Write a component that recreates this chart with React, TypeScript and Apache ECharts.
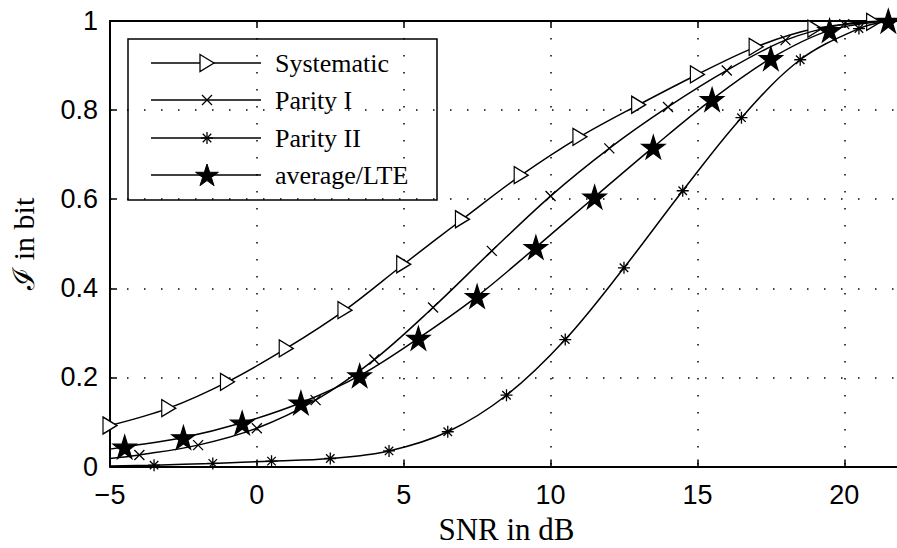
import React, { useEffect, useRef } from "react";
import * as echarts from "echarts";

// ---- data ----
const systematicSnr = [-5, -3, -1, 1, 3, 5, 7, 9, 11, 13, 15, 17, 19, 21, 21.5];
const systematicInfo = [0.092, 0.131, 0.19, 0.265, 0.351, 0.454, 0.555, 0.654, 0.74, 0.812, 0.88, 0.942, 0.983, 0.998, 1.0];
const systematicUnmarked = [21.5];

const parity1Snr = [-5, -4, -2, 0, 2, 4, 6, 8, 10, 12, 14, 16, 18, 20, 21.5];
const parity1Info = [0.018, 0.026, 0.048, 0.086, 0.149, 0.24, 0.357, 0.484, 0.607, 0.714, 0.807, 0.889, 0.957, 0.993, 1.0];
const parity1Unmarked = [-5, 21.5];

const parity2Snr = [-5, -3.5, -1.5, 0.5, 2.5, 4.5, 6.5, 8.5, 10.5, 12.5, 14.5, 16.5, 18.5, 20.5, 21.5];
const parity2Info = [0.001, 0.003, 0.007, 0.012, 0.018, 0.035, 0.078, 0.16, 0.285, 0.446, 0.619, 0.783, 0.913, 0.983, 1.0];
const parity2Unmarked = [-5, 21.5];

const averageSnr = [-5, -4.5, -2.5, -0.5, 1.5, 3.5, 5.5, 7.5, 9.5, 11.5, 13.5, 15.5, 17.5, 19.5, 21.5];
const averageInfo = [0.039, 0.044, 0.065, 0.098, 0.143, 0.204, 0.288, 0.382, 0.492, 0.605, 0.717, 0.824, 0.916, 0.979, 1.0];
const averageUnmarked = [-5];

const seriesNames = ["Systematic", "Parity I", "Parity II", "average/LTE"];
const xTickValues = [-5, 0, 5, 10, 15, 20];
const xAxisTitle = "SNR in dB";
const yAxisTitle = "\u2110 in bit";

const serif = '"Liberation Serif", "Times New Roman", "DejaVu Serif", serif';
const sans = '"Liberation Sans", Arial, Helvetica, sans-serif';

function starPoints(cx: number, cy: number, R: number): number[][] {
  const pts: number[][] = [];
  for (let k = 0; k < 10; k++) {
    const a = ((-90 + k * 36) * Math.PI) / 180;
    const r = k % 2 === 0 ? R : R * 0.382;
    pts.push([cx + r * Math.cos(a), cy + r * Math.sin(a)]);
  }
  return pts;
}

const starPath =
  "path://" +
  starPoints(10, 10, 10)
    .map((p, i) => (i === 0 ? "M" : "L") + p[0].toFixed(3) + "," + p[1].toFixed(3))
    .join("") +
  "Z";
const trianglePath = "path://M0,0L14,8.5L0,17Z";
const crossPath = "path://M0,0L10,10M10,0L0,10";
const asteriskPath = "path://M6,0L6,12M0,6L12,6M1.76,1.76L10.24,10.24M10.24,1.76L1.76,10.24";

function pairs(xs: number[], ys: number[], unmarked: number[]) {
  return xs.map((x, i) =>
    unmarked.includes(x) ? { value: [x, ys[i]], symbol: "none" } : { value: [x, ys[i]] }
  );
}

export default function App() {
  const ref = useRef<HTMLDivElement>(null);

  useEffect(() => {
    if (!ref.current) return;
    const chart = echarts.init(ref.current, undefined, { renderer: "svg" });

    const lineStyle = { color: "#000", width: 1.5 };
    const dotted = { color: "#000", width: 1.5, type: [1.5, 15.5] as any };

    const legendRows = [63, 100, 138, 175];
    const mx = 207;
    const legendChildren: any[] = [
      {
        type: "rect",
        shape: { x: 128, y: 39, width: 309, height: 161 },
        style: { fill: "#fff", stroke: "#000", lineWidth: 1.5 },
      },
    ];
    legendRows.forEach((y, i) => {
      legendChildren.push({
        type: "line",
        shape: { x1: 151, y1: y, x2: 261, y2: y },
        style: { stroke: "#000", lineWidth: 1.5 },
      });
      if (i === 0) {
        legendChildren.push({
          type: "polygon",
          shape: { points: [[mx - 7, y - 8.5], [mx + 7, y], [mx - 7, y + 8.5]] },
          style: { fill: "#fff", stroke: "#000", lineWidth: 1.3 },
        });
      } else if (i === 1) {
        legendChildren.push(
          { type: "line", shape: { x1: mx - 5, y1: y - 5, x2: mx + 5, y2: y + 5 }, style: { stroke: "#000", lineWidth: 1.3 } },
          { type: "line", shape: { x1: mx + 5, y1: y - 5, x2: mx - 5, y2: y + 5 }, style: { stroke: "#000", lineWidth: 1.3 } }
        );
      } else if (i === 2) {
        const r = 6;
        const d = r * 0.707;
        legendChildren.push(
          { type: "line", shape: { x1: mx, y1: y - r, x2: mx, y2: y + r }, style: { stroke: "#000", lineWidth: 1.3 } },
          { type: "line", shape: { x1: mx - r, y1: y, x2: mx + r, y2: y }, style: { stroke: "#000", lineWidth: 1.3 } },
          { type: "line", shape: { x1: mx - d, y1: y - d, x2: mx + d, y2: y + d }, style: { stroke: "#000", lineWidth: 1.3 } },
          { type: "line", shape: { x1: mx + d, y1: y - d, x2: mx - d, y2: y + d }, style: { stroke: "#000", lineWidth: 1.3 } }
        );
      } else {
        legendChildren.push({
          type: "polygon",
          shape: { points: starPoints(mx, y + 1, 12) },
          style: { fill: "#000", stroke: "#000", lineWidth: 1 },
        });
      }
      legendChildren.push({
        type: "text",
        x: 275,
        y: y,
        style: {
          text: seriesNames[i],
          fontFamily: serif,
          fontSize: 26,
          fill: "#000",
          verticalAlign: "middle",
          align: "left",
        },
      });
    });

    const mkSeries = (
      name: string,
      data: any[],
      symbol: string,
      symbolSize: any,
      fill: string,
      z: number
    ) => ({
      name,
      type: "line",
      xAxisIndex: 0,
      yAxisIndex: 0,
      data,
      smooth: 0.35,
      symbol,
      symbolSize,
      showAllSymbol: true,
      lineStyle,
      itemStyle: { color: fill, borderColor: "#000", borderWidth: 1.3 },
      emphasis: { disabled: true },
      z,
    });

    const option: any = {
      animation: false,
      backgroundColor: "#fff",
      grid: {
        left: 110,
        right: -6,
        top: 21,
        bottom: 81.5,
        containLabel: false,
        outerBoundsMode: "none",
        show: false,
      },
      xAxis: [
        {
          type: "value",
          min: -5,
          max: 22,
          interval: 5,
          position: "bottom",
          axisLine: { show: true, onZero: false, lineStyle: { color: "#000", width: 2 } },
          axisTick: { show: true, inside: true, length: 7, lineStyle: { color: "#000", width: 1.5 } },
          axisLabel: {
            color: "#000",
            fontFamily: sans,
            fontSize: 27,
            margin: 15,
            showMaxLabel: false,
            formatter: (v: number) =>
              xTickValues.includes(v) ? (v < 0 ? "\u2212" + Math.abs(v) : String(v)) : "",
          },
          splitLine: { show: true, lineStyle: dotted },
          name: xAxisTitle,
          nameLocation: "middle",
          nameGap: 47,
          nameMoveOverlap: false,
          nameTextStyle: { fontFamily: serif, fontSize: 31, color: "#000" },
        },
        {
          type: "value",
          min: -5,
          max: 22,
          interval: 5,
          position: "top",
          axisLine: { show: true, onZero: false, lineStyle: { color: "#000", width: 2 } },
          axisTick: { show: true, inside: true, length: 7, lineStyle: { color: "#000", width: 1.5 } },
          axisLabel: { show: false },
          splitLine: { show: false },
        },
      ],
      yAxis: {
        type: "value",
        min: 0,
        max: 1,
        interval: 0.2,
        axisLine: { show: true, onZero: false, lineStyle: { color: "#000", width: 2 } },
        axisTick: { show: true, inside: true, length: 7, lineStyle: { color: "#000", width: 1.5 } },
        axisLabel: { color: "#000", fontFamily: sans, fontSize: 27, margin: 12 },
        splitLine: { show: true, lineStyle: dotted },
        name: yAxisTitle,
        nameLocation: "middle",
        nameGap: 72,
        nameMoveOverlap: false,
        nameTextStyle: { fontFamily: serif, fontSize: 30, color: "#000" },
      },
      series: [
        mkSeries(seriesNames[0], pairs(systematicSnr, systematicInfo, systematicUnmarked), trianglePath, [14, 17], "#fff", 3),
        mkSeries(seriesNames[1], pairs(parity1Snr, parity1Info, parity1Unmarked), crossPath, 10, "#000", 4),
        mkSeries(seriesNames[2], pairs(parity2Snr, parity2Info, parity2Unmarked), asteriskPath, 12, "#000", 5),
        mkSeries(seriesNames[3], pairs(averageSnr, averageInfo, averageUnmarked), starPath, 23, "#000", 6),
      ],
      graphic: [{ type: "group", z: 100, children: legendChildren }],
    };

    chart.setOption(option);
    return () => chart.dispose();
  }, []);

  return (
    <div
      style={{
        position: "fixed",
        left: 0,
        top: 0,
        width: 897,
        height: 548,
        overflow: "hidden",
        background: "#fff",
      }}
    >
      <div ref={ref} style={{ width: 897, height: 548 }} />
    </div>
  );
}
